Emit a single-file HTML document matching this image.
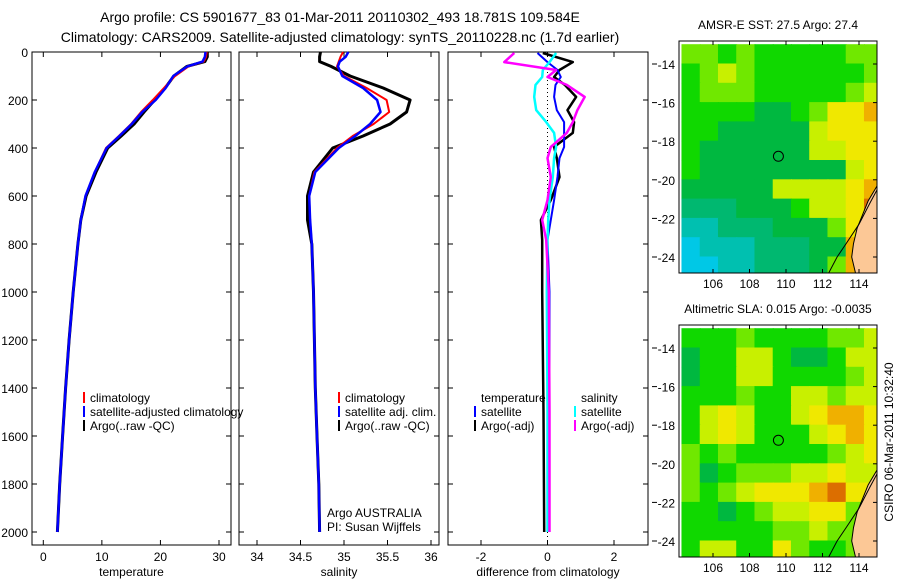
<!DOCTYPE html>
<html><head><meta charset="utf-8">
<style>
body{margin:0;background:#fff;}
svg{display:block;font-family:"Liberation Sans",sans-serif;}
</style></head>
<body>
<svg id="fig" width="900" height="580" viewBox="0 0 900 580">
<text x="340" y="22" font-size="14" text-anchor="middle">Argo profile: CS 5901677_83 01-Mar-2011 20110302_493 18.781S 109.584E</text>
<text x="340" y="42" font-size="14" text-anchor="middle">Climatology: CARS2009. Satellite-adjusted climatology: synTS_20110228.nc (1.7d earlier)</text>
</svg>
<script>
// ---------- data ----------
const depths = [0,20,40,60,100,150,200,250,300,350,400,500,600,700,800,1000,1200,1400,1600,1800,2000];
const tempArgo = [28.0,28.0,27.6,24.5,22.3,20.8,19.0,17.2,15.5,13.3,11.0,9.0,7.3,6.4,5.9,5.1,4.4,3.8,3.3,2.8,2.4];
const tempClim = [27.9,27.8,27.4,24.8,22.5,20.6,18.7,16.7,15.0,12.9,10.7,8.8,7.2,6.4,5.9,5.1,4.4,3.8,3.3,2.8,2.4];
const tempSat  = [27.7,27.6,27.2,24.6,22.2,20.9,19.2,16.9,15.1,13.0,10.8,8.8,7.2,6.4,5.9,5.1,4.4,3.8,3.3,2.8,2.4];
const salArgo = [34.73,34.72,34.72,34.85,35.07,35.45,35.76,35.72,35.53,35.22,34.87,34.65,34.58,34.58,34.63,34.65,34.66,34.67,34.69,34.71,34.72];
const salClim = [34.99,34.96,34.94,34.92,35.00,35.26,35.49,35.52,35.34,35.10,34.92,34.66,34.6,34.61,34.63,34.65,34.66,34.67,34.69,34.71,34.72];
const salSat  = [35.05,35.02,34.95,34.93,34.98,35.22,35.38,35.42,35.30,35.13,34.94,34.67,34.6,34.61,34.63,34.65,34.66,34.67,34.69,34.71,34.72];
const diffDepths = [4,42,75,104,137,187,242,292,337,396,442,521,617,700,783,1000,1500,2000];
const diffTempSat  = [-0.3,0.0,0.3,0.4,0.24,0.2,0.28,0.5,0.5,0.5,0.36,0.3,0.2,0.1,0.0,0.06,0.06,0.06];
const diffTempArgo = [-0.14,0.76,0.36,0.2,0.52,0.86,0.6,0.8,0.76,0.2,0.28,0.36,0.1,-0.2,-0.16,-0.16,-0.12,-0.1];
const diffSalSat   = [0.26,0.06,-0.14,-0.16,-0.36,-0.4,-0.34,-0.04,0.2,0.26,0.2,0.16,0.06,0.02,0.0,-0.02,0.0,0.0];
const diffSalArgo  = [-1.0,-1.3,0.26,0.0,0.58,1.12,0.9,0.76,0.58,0.1,0.0,0.1,0.0,-0.16,-0.04,0.04,0.06,0.06];
const depthTicks = [0,200,400,600,800,1000,1200,1400,1600,1800,2000];
const tempTicks = [0,10,20,30];
const salTicks = [34,34.5,35,35.5,36];
const diffTicks = [-2,0,2];
// map grids: rows lat -13..-25 (1 deg), cols lon 104.3..115.3 (1 deg)
const sstGrid = [
[5,5,4,5,4,4,4,4,4,5,5],
[4,5,6,5,4,4,4,4,4,4,5],
[4,5,5,5,4,4,4,4,4,5,6],
[4,4,4,4,3,3,4,5,7,7,8],
[4,4,3,3,3,3,3,6,7,7,7],
[4,3,3,3,3,3,3,6,6,7,7],
[4,3,3,3,3,3,3,3,3,6,7],
[3,3,3,3,3,6,6,6,6,7,8],
[2,2,2,3,3,3,4,6,6,7,9],
[1,1,2,2,2,3,3,3,5,7,10],
[0,1,1,1,2,2,2,3,3,8,8],
[0,0,1,1,2,2,2,3,5,8,8]];
const slaGrid = [
[4,4,4,5,4,4,4,4,5,5,6],
[3,4,4,6,6,4,3,3,4,6,6],
[3,4,4,6,6,4,4,4,4,5,6],
[4,4,4,5,4,4,6,6,5,6,6],
[4,6,7,6,4,4,6,7,8,8,7],
[4,6,7,6,4,4,4,6,7,8,7],
[5,4,5,4,4,4,4,4,5,6,7],
[5,3,4,5,5,5,6,6,7,6,6],
[5,4,5,6,7,7,7,8,9,7,7],
[4,4,3,4,5,6,6,7,7,5,5],
[4,4,4,4,4,5,5,6,5,5,5],
[4,6,6,4,4,7,5,4,4,5,5]];
const latTicks = [-14,-16,-18,-20,-22,-24];
const lonTicks = [106,108,110,112,114];
const argoLon = 109.584, argoLat = -18.781;
const coastLon = [115,114.5,114.2,113.9,113.7,113.6,113.8,113.8,115];
const coastLat = [-20.3,-21.1,-21.8,-22.5,-23.3,-24.0,-24.8,-25,-25];
const shelfLon = [112.3,112.8,113.3,114.0,114.6,115];
const shelfLat = [-24.9,-24.0,-23.3,-22.3,-21.2,-20.5];
const palette = ["#00c8e6","#00c0b0","#00b870","#00b840","#10d800","#70e800","#c8f000","#f0e800","#f0b000","#dc6e00","#b43c00"];

// ---------- helpers ----------
const NS="http://www.w3.org/2000/svg";
const svg=document.getElementById('fig');
function mk(tag,attrs,parent){const e=document.createElementNS(NS,tag);for(const k in attrs)e.setAttribute(k,attrs[k]);(parent||svg).appendChild(e);return e;}
const Y0=52, YB=545, PXM=0.24;
function yD(d){return Y0+d*PXM;}
function lin(v0,p0,v1,p1){return v=>p0+(v-v0)*(p1-p0)/(v1-v0);}
const xT=lin(0,43.3,30,219);
const xS=lin(34,257,36,431);
const xDf=lin(-2,481,2,614);

function panel(name,x0,x1,xf,xt,showY,label){
  const g=mk('g',{});
  
  
  const r=mk('rect',{x:x0,y:Y0,width:x1-x0,height:YB-Y0,fill:'none',stroke:'#000','stroke-width':1},g);
  
  
  depthTicks.forEach(d=>{
    mk('line',{x1:x0,x2:x0+5,y1:yD(d),y2:yD(d),stroke:'#000'},g);
    mk('line',{x1:x1,x2:x1-5,y1:yD(d),y2:yD(d),stroke:'#000'},g);
    if(showY){const t=mk('text',{x:x0-4,y:yD(d)+5,'font-size':12,'text-anchor':'end'},g);t.textContent=d;
      
      }
  });
  xt.forEach(v=>{
    mk('line',{x1:xf(v),x2:xf(v),y1:YB,y2:YB-5,stroke:'#000'},g);
    mk('line',{x1:xf(v),x2:xf(v),y1:Y0,y2:Y0+5,stroke:'#000'},g);
    const t=mk('text',{x:xf(v),y:561,'font-size':12,'text-anchor':'middle'},g);t.textContent=v;
    
    
  });
  const lt=mk('text',{x:(x0+x1)/2,y:576,'font-size':12,'text-anchor':'middle'},g);lt.textContent=label;
  
  
  return g;
}
function line(g,xs,ds,xf,color,w,name){
  const pts=xs.map((v,i)=>xf(v).toFixed(1)+','+yD(ds[i]).toFixed(1)).join(' ');
  const p=mk('polyline',{points:pts,fill:'none',stroke:color,'stroke-width':w,'stroke-linejoin':'round'},g);
  
  
}
function legend(g,x,y,color,text,name){
  if(color){mk('rect',{x:x-7,y:y-10,width:2,height:11,fill:color},g);}
  const t=mk('text',{x:x,y:y,'font-size':12},g);t.textContent=text;
  
  
}

// panel 1 temperature
const p1=panel('temperature-panel',32,231,xT,tempTicks,true,'temperature');
line(p1,tempArgo,depths,xT,'#000',3,'temp-argo-line');
line(p1,tempClim,depths,xT,'#f00',2,'temp-climatology-line');
line(p1,tempSat,depths,xT,'#00f',2.5,'temp-satellite-line');
legend(p1,90,402,'#f00','climatology','legend-climatology');
legend(p1,90,416,'#00f','satellite-adjusted climatology','legend-satellite-adjusted');
legend(p1,90,430,'#000','Argo(..raw -QC)','legend-argo');
// panel 2 salinity
const p2=panel('salinity-panel',239,439,xS,salTicks,false,'salinity');
line(p2,salArgo,depths,xS,'#000',3,'sal-argo-line');
line(p2,salClim,depths,xS,'#f00',2,'sal-climatology-line');
line(p2,salSat,depths,xS,'#00f',2.5,'sal-satellite-line');
legend(p2,345,402,'#f00','climatology','legend-sal-climatology');
legend(p2,345,416,'#00f','satellite adj. clim.','legend-sal-satellite');
legend(p2,345,430,'#000','Argo(..raw -QC)','legend-sal-argo');
legend(p2,327,517,null,'Argo AUSTRALIA','argo-australia-label');
legend(p2,327,531,null,'PI: Susan Wijffels','pi-label');
// panel 3 diff
const p3=panel('difference-panel',448,648,xDf,diffTicks,false,'difference from climatology');
mk('line',{x1:xDf(0),x2:xDf(0),y1:68,y2:540,stroke:'#000','stroke-dasharray':'1,3'},p3);
line(p3,diffTempArgo,diffDepths,xDf,'#000',2.5,'diff-temp-argo-line');
line(p3,diffTempSat,diffDepths,xDf,'#00f',2,'diff-temp-satellite-line');
line(p3,diffSalSat,diffDepths,xDf,'#0ff',2.5,'diff-sal-satellite-line');
line(p3,diffSalArgo,diffDepths,xDf,'#f0f',2.5,'diff-sal-argo-line');
legend(p3,481,402,null,'temperature','legend-diff-temperature-header');
legend(p3,481,416,'#00f','satellite','legend-diff-temp-satellite');
legend(p3,481,430,'#000','Argo(-adj)','legend-diff-temp-argo');
legend(p3,581,402,null,'salinity','legend-diff-salinity-header');
legend(p3,581,416,'#0ff','satellite','legend-diff-sal-satellite');
legend(p3,581,430,'#f0f','Argo(-adj)','legend-diff-sal-argo');

// maps
function map(name,top,grid,title){
  const g=mk('g',{});
  
  
  const L=679,R=877,B=top+232;
  const xm=lin(106,713,114,859), ym=lin(-14,top+23,-24,top+216);
  const cid='clip'+top;
  const cp=mk('clipPath',{id:cid},g);mk('rect',{x:L,y:top,width:R-L,height:B-top},cp);
  const gg=mk('g',{'clip-path':'url(#'+cid+')'},g);
  grid.forEach((row,i)=>row.forEach((v,j)=>{
    const lon=104.3+j, lat=-13-i;
    const c=mk('rect',{x:xm(lon)-0.5,y:ym(lat)-0.5,width:xm(lon+1)-xm(lon)+1,height:ym(lat-1)-ym(lat)+1,fill:palette[v]},gg);
    
    
  }));
  const land=mk('polygon',{points:coastLon.map((v,i)=>xm(v)+','+ym(coastLat[i])).join(' '),fill:'#fcc896',stroke:'#000','stroke-width':1},gg);
  
  
  const sh=mk('polyline',{points:shelfLon.map((v,i)=>xm(v)+','+ym(shelfLat[i])).join(' '),fill:'none',stroke:'#000','stroke-width':1},gg);
  
  
  const c=mk('circle',{cx:xm(argoLon),cy:ym(argoLat),r:5,fill:'none',stroke:'#000'},g);
  
  
  const f=mk('rect',{x:L,y:top,width:R-L,height:B-top,fill:'none',stroke:'#000'},g);
  
  
  latTicks.forEach(v=>{
    mk('line',{x1:R,x2:R-4,y1:ym(v),y2:ym(v),stroke:'#000'},g);
    mk('line',{x1:652,x2:657,y1:ym(v),y2:ym(v),stroke:'#000'},g);
    const t=mk('text',{x:675,y:ym(v)+5,'font-size':12,'text-anchor':'end'},g);t.textContent=v;
    
    
  });
  lonTicks.forEach(v=>{
    mk('line',{x1:xm(v),x2:xm(v),y1:top,y2:top+4,stroke:'#000'},g);
    mk('line',{x1:xm(v),x2:xm(v),y1:B,y2:B-4,stroke:'#000'},g);
    const t=mk('text',{x:xm(v),y:B+15,'font-size':12,'text-anchor':'middle'},g);t.textContent=v;
    
    
  });
  const tt=mk('text',{x:778,y:top-12,'font-size':12,'text-anchor':'middle'},g);tt.textContent=title;
  
  
}
map('sst-map',41,sstGrid,'AMSR-E SST: 27.5 Argo: 27.4');
map('sla-map',325,slaGrid,'Altimetric SLA: 0.015 Argo: -0.0035');
const cs=mk('text',{x:0,y:0,'font-size':12,'text-anchor':'middle',transform:'translate(893,442) rotate(-90)'});
cs.textContent='CSIRO 06-Mar-2011 10:32:40';


</script>
</body></html>
